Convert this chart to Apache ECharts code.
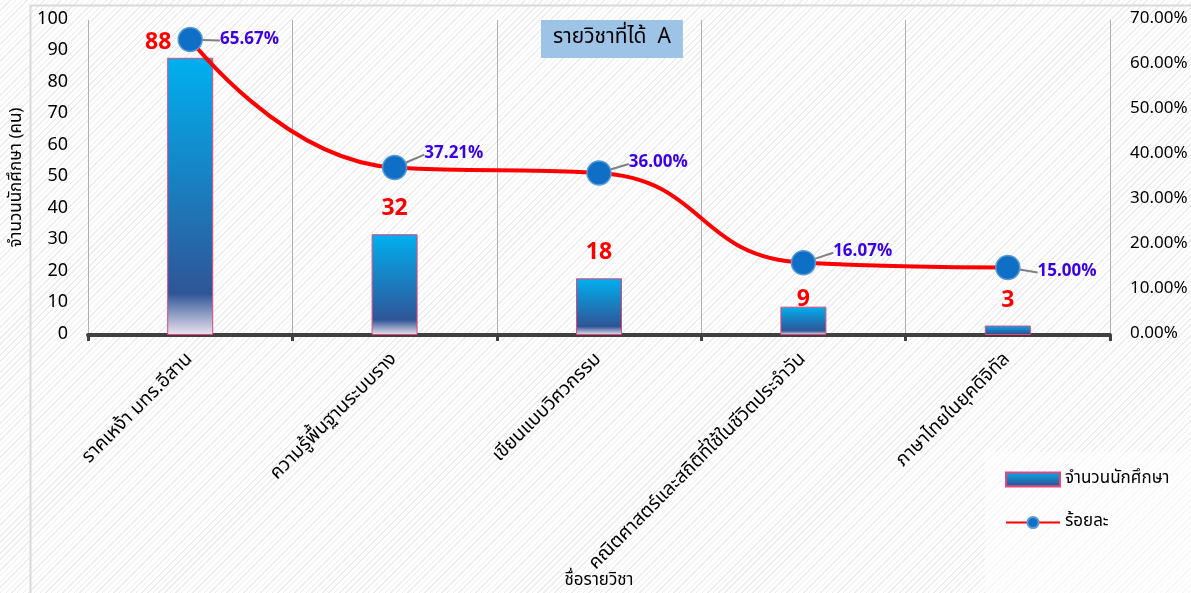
<!DOCTYPE html>
<html>
<head>
<meta charset="utf-8">
<script src="https://cdn.jsdelivr.net/npm/echarts@6/dist/echarts.min.js"></script>
<style>
  html, body { margin: 0; padding: 0; }
  body {
    width: 1191px; height: 593px; overflow: hidden;
    background: repeating-linear-gradient(135deg, #ffffff 0px, #ffffff 3px, #ececec 3px, #ececec 4px);
  }
  #chart { width: 1191px; height: 593px; }
</style>
</head>
<body>
<div id="chart"></div>
<script>
const categories = [
  'ราคเหง้า มทร.อีสาน',
  'ความรู้พื้นฐานระบบราง',
  'เขียนแบบวิศวกรรม',
  'คณิตศาสตร์และสถิติที่ใช้ในชีวิตประจำวัน',
  'ภาษาไทยในยุคดิจิทัล'
];
const studentCounts = [88, 32, 18, 9, 3];
const percentValues = [65.67, 37.21, 36.00, 16.07, 15.00];
const leftTicks = { min: 0, max: 100, interval: 10 };
const rightTicks = { min: 0, max: 70, interval: 10 };
const titleText = 'รายวิชาที่ได้  A';
const seriesNames = ['จำนวนนักศึกษา', 'ร้อยละ'];
const xAxisName = 'ชื่อรายวิชา';
const yAxisName = 'จำนวนนักศึกษา (คน)';

const FONT = "'Noto Sans Thai', 'Noto Sans', 'DejaVu Sans', sans-serif";

const barGradient = new echarts.graphic.LinearGradient(0, 0, 0, 1, [
  { offset: 0, color: '#00b0f0' },
  { offset: 0.85, color: '#2f5597' },
  { offset: 1, color: '#ece4f0' }
]);

const barData = studentCounts.map((v, i) => {
  const item = { value: v };
  if (i === 0) item.label = { distance: 2, offset: [-32, 0] };
  if (i === 3) item.label = { distance: 0, offset: [0, 6] };
  return item;
});

const pctLabelShift = [1, -13, -9, -10, 5];

const chart = echarts.init(document.getElementById('chart'), null, { renderer: 'canvas' });
chart.setOption({
  backgroundColor: 'transparent',
  textStyle: { fontFamily: FONT },
  title: {
    text: titleText,
    left: 541, top: 20,
    backgroundColor: '#9dc3e6',
    padding: [8, 12, 9, 12],
    textStyle: { fontSize: 21, fontWeight: 'normal', color: '#000', fontFamily: FONT }
  },
  graphic: [
    { type: 'rect', left: 28, top: 3, shape: { width: 1200, height: 700 }, style: { fill: 'none', stroke: '#d9d9d9', lineWidth: 2 }, silent: true, z: -10 },
    { type: 'rect', left: 985, top: 452, shape: { width: 210, height: 145 }, style: { fill: 'rgba(255,255,255,0.55)' }, silent: true, z: -9 }
  ],
  legend: {
    orient: 'vertical',
    left: 1000, top: 466,
    itemGap: 26,
    itemWidth: 54, itemHeight: 14,
    textStyle: { fontSize: 17, color: '#000', fontFamily: FONT },
    data: [
      { name: seriesNames[0], icon: 'rect' },
      { name: seriesNames[1] }
    ]
  },
  grid: { left: 88, right: 81, top: 20, bottom: 258, containLabel: false, outerBoundsMode: 'none' },
  xAxis: {
    type: 'category',
    data: categories,
    name: xAxisName,
    nameLocation: 'middle',
    nameGap: 238,
    nameMoveOverlap: false,
    nameTextStyle: { fontSize: 17, color: '#000', fontFamily: FONT },
    axisLine: { lineStyle: { color: '#404040', width: 4 } },
    axisTick: { show: true, length: 6, lineStyle: { color: '#404040', width: 3 } },
    splitLine: { show: true, lineStyle: { color: '#b0b0b0', width: 1 } },
    axisLabel: { interval: 0, rotate: 45, fontSize: 19, color: '#000', margin: 22, fontFamily: FONT }
  },
  yAxis: [
    {
      type: 'value', min: leftTicks.min, max: leftTicks.max, interval: leftTicks.interval,
      name: yAxisName, nameLocation: 'middle', nameGap: 62,
      nameTextStyle: { fontSize: 17, color: '#000', fontFamily: FONT },
      axisLine: { show: false }, axisTick: { show: false }, splitLine: { show: false },
      axisLabel: { fontSize: 18, color: '#000', margin: 20, fontFamily: FONT }
    },
    {
      type: 'value', min: rightTicks.min, max: rightTicks.max, interval: rightTicks.interval,
      axisLine: { show: false }, axisTick: { show: false }, splitLine: { show: false },
      axisLabel: { fontSize: 17, color: '#000', margin: 20, fontFamily: FONT, formatter: v => v.toFixed(2) + '%' }
    }
  ],
  series: [
    {
      name: seriesNames[0],
      type: 'bar',
      yAxisIndex: 0,
      barWidth: 46,
      data: barData,
      itemStyle: { color: barGradient, borderColor: '#e8457a', borderWidth: 1 },
      label: {
        show: true, position: 'top', distance: 12,
        color: '#ff0000', fontSize: 23, fontWeight: 'bold', fontFamily: FONT
      },
      z: 2
    },
    {
      name: seriesNames[1],
      type: 'line',
      yAxisIndex: 1,
      smooth: 0.5,
      data: percentValues,
      symbol: 'circle',
      symbolSize: 24,
      lineStyle: { color: '#ff0000', width: 4 },
      itemStyle: { color: '#0f6fc6', borderColor: '#5b9bd5', borderWidth: 1.5 },
      label: {
        show: true, position: 'right', distance: 17,
        color: '#3a00e8', fontSize: 17, fontWeight: 'bold', fontFamily: FONT,
        formatter: p => p.value.toFixed(2) + '%'
      },
      labelLayout: p => ({ dy: pctLabelShift[p.dataIndex] }),
      labelLine: { show: true, lineStyle: { color: '#808080', width: 2 } },
      z: 5
    }
  ]
});
</script>
</body>
</html>
